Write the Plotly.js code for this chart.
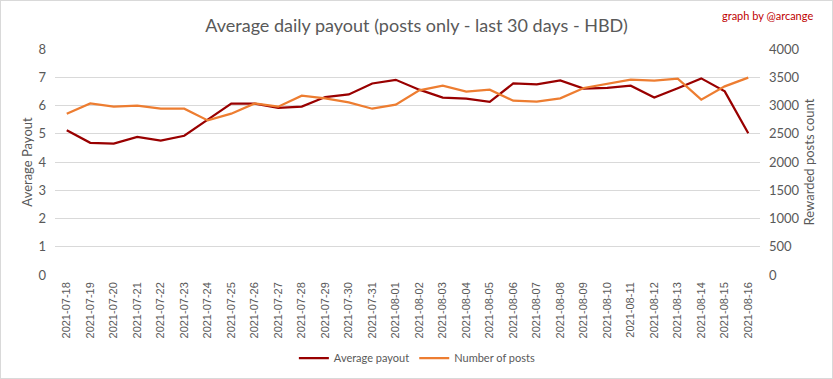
<!DOCTYPE html>
<html><head><meta charset="utf-8">
<script src="https://cdn.plot.ly/plotly-3.0.1.min.js"></script>
<style>
html,body{margin:0;padding:0;background:#fff;}
#chart{width:831px;height:377px;border:1px solid #d9d9d9;}
</style></head>
<body><div id="chart"></div>
<script>
const dates = ["2021-07-18","2021-07-19","2021-07-20","2021-07-21","2021-07-22","2021-07-23","2021-07-24","2021-07-25","2021-07-26","2021-07-27","2021-07-28","2021-07-29","2021-07-30","2021-07-31","2021-08-01","2021-08-02","2021-08-03","2021-08-04","2021-08-05","2021-08-06","2021-08-07","2021-08-08","2021-08-09","2021-08-10","2021-08-11","2021-08-12","2021-08-13","2021-08-14","2021-08-15","2021-08-16"];
const avgPayout = [5.12,4.68,4.65,4.89,4.76,4.93,5.5,6.07,6.07,5.92,5.96,6.30,6.39,6.78,6.91,6.56,6.28,6.24,6.13,6.78,6.75,6.89,6.60,6.62,6.70,6.28,6.61,6.96,6.50,5.02];
const numPosts = [2855,3037,2979,2996,2943,2943,2736,2855,3037,2979,3174,3126,3055,2943,3014,3268,3351,3245,3280,3085,3067,3126,3310,3387,3457,3440,3475,3103,3339,3493];
const leftTicks = [0,1,2,3,4,5,6,7,8];
const rightTicks = [0,500,1000,1500,2000,2500,3000,3500,4000];

const font = "Lato, 'Open Sans', sans-serif";
const grey = "#595959";
const traces = [
  {x: dates, y: avgPayout, name: "Average payout", type: "scatter", mode: "lines",
   line: {color: "#990000", width: 2.25}, yaxis: "y"},
  {x: dates, y: numPosts, name: "Number of posts", type: "scatter", mode: "lines",
   line: {color: "#ed7d31", width: 2.25}, yaxis: "y2"}
];
const layout = {
  width: 831, height: 377,
  margin: {l: 54, r: 72, t: 48, b: 103, autoexpand: false},
  paper_bgcolor: "#fff", plot_bgcolor: "#fff",
  font: {family: font, color: grey},
  showlegend: true,
  legend: {orientation: "h", x: 0.514, xanchor: "center", yref: "container", y: 0.053, yanchor: "middle",
           font: {size: 11, color: grey, family: font}, itemwidth: 30},
  title: {text: "Average daily payout (posts only - last 30 days - HBD)",
          font: {size: 18, color: grey, family: font}, x: 0.5, xanchor: "center", y: 0.935, yanchor: "middle"},
  xaxis: {type: "category", range: [-0.5, 29.5], tickangle: -90, showgrid: false, automargin: false,
          showline: false, zeroline: false, ticks: "", ticklabelstandoff: 4,
          tickfont: {size: 11, color: grey, family: "'Liberation Sans', Arial, sans-serif"}},
  yaxis: {range: [0, 8], tickvals: leftTicks, ticktext: leftTicks.map(String), automargin: false,
          gridcolor: "#d9d9d9", gridwidth: 1, zeroline: false, showline: false,
          tickfont: {size: 13, color: grey}, ticklabelstandoff: 8,
          title: {text: "Average Payout", font: {size: 13, color: grey}, standoff: 2}},
  yaxis2: {range: [0, 4000], tickvals: rightTicks, ticktext: rightTicks.map(String), automargin: false,
           overlaying: "y", side: "right", showgrid: false, zeroline: false, showline: false,
           tickfont: {size: 13, color: grey}, ticklabelstandoff: 8,
           title: {text: "Rewarded posts count", font: {size: 13, color: grey}, standoff: 6}},
  annotations: [{text: "graph by @arcange", xref: "paper", yref: "paper", x: 1.078, y: 1.15,
                 xanchor: "right", yanchor: "middle", showarrow: false,
                 font: {size: 11, color: "#c00000", family: font}}]
};
Plotly.newPlot("chart", traces, layout, {displayModeBar: false, staticPlot: true});
</script></body></html>
